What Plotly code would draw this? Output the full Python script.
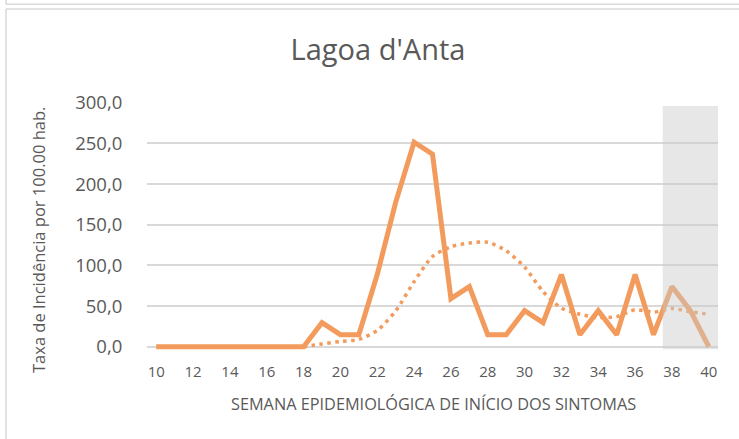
import plotly.graph_objects as go

# ---- data ----
weeks = list(range(10, 41))
incidence = [0, 0, 0, 0, 0, 0, 0, 0, 0,
             29.6, 14.8, 14.8, 88.8, 177.6, 251.6, 236.8, 59.2, 74.0,
             14.8, 14.8, 44.4, 29.6, 88.8, 14.8, 44.4, 14.8, 88.8, 14.8,
             74.0, 44.4, 0]
trend_weeks = list(range(18, 41))
trend_values = [0, 3.5, 6.5, 9, 20, 44, 80, 111, 123, 127.5, 128.5, 118, 98,
                68, 47.5, 40, 36, 37, 45.5, 42.6, 47, 43, 40]
y_tickvals = [0, 50, 100, 150, 200, 250, 300]
y_ticktext = ["0,0", "50,0", "100,0", "150,0", "200,0", "250,0", "300,0"]
x_tickvals = list(range(10, 41, 2))
shade_weeks = [37.5, 40.5]
title_text = "Lagoa d'Anta"
x_title = "SEMANA EPIDEMIOLÓGICA DE INÍCIO DOS SINTOMAS"
y_title = "Taxa de Incidência por 100.00 hab."

# ---- layout geometry (pixels) ----
W, H = 739, 439
L, R, T, B = 147, 21, 102, 89
pw, ph = W - L - R, H - T - B

def px_x(p):
    return (p - L) / pw

def px_y(p):
    return (H - B - p) / ph

ORANGE = "#F29B5C"
GRID = "#D9D9D9"
TXT = "#595959"
FONT = "Open Sans"

fig = go.Figure()
fig.add_trace(go.Scatter(
    x=trend_weeks, y=trend_values, mode="lines",
    line=dict(color=ORANGE, width=3.5, dash="3.5px,4.5px", shape="spline", smoothing=0.7),
    hoverinfo="skip", showlegend=False))
fig.add_trace(go.Scatter(
    x=weeks, y=incidence, mode="lines",
    line=dict(color=ORANGE, width=5),
    showlegend=False))

fig.add_shape(type="rect", xref="x", yref="y",
              x0=shade_weeks[0], x1=shade_weeks[1], y0=-3, y1=296,
              fillcolor="rgba(200,200,200,0.44)", line=dict(width=0), layer="above")

# chart-area borders
bc = dict(color="#D9D9D9", width=1.5)
fig.add_shape(type="line", xref="paper", yref="paper",
              x0=px_x(6), x1=px_x(W + 5), y0=px_y(9), y1=px_y(9), line=bc)
fig.add_shape(type="line", xref="paper", yref="paper",
              x0=px_x(6), x1=px_x(6), y0=px_y(9), y1=px_y(H + 5), line=bc)
fig.add_shape(type="line", xref="paper", yref="paper",
              x0=px_x(6), x1=px_x(W + 5), y0=px_y(4.3), y1=px_y(4.3), line=bc)
fig.add_shape(type="line", xref="paper", yref="paper",
              x0=px_x(6), x1=px_x(6), y0=px_y(4.3), y1=px_y(-5), line=bc)

fig.update_layout(
    width=W, height=H,
    margin=dict(l=L, r=R, t=T, b=B, pad=0),
    paper_bgcolor="white", plot_bgcolor="white",
    font=dict(family=FONT, color=TXT),
    title=dict(text=title_text, x=378 / W, xanchor="center", xref="container",
               y=1 - 50 / H, yanchor="middle", yref="container",
               font=dict(size=29, color=TXT, family=FONT)),
    xaxis=dict(range=[9.5, 40.5], tickvals=x_tickvals, showgrid=False,
               zeroline=False, showline=False, ticks="outside", ticklen=8,
               tickcolor="rgba(0,0,0,0)", tickfont=dict(size=15, color=TXT)),
    yaxis=dict(range=[-4, 301], tickvals=y_tickvals, ticktext=y_ticktext,
               showgrid=True, gridcolor=GRID, gridwidth=1.5, zeroline=False,
               showline=False, ticks="outside", ticklen=20,
               tickcolor="rgba(0,0,0,0)", tickfont=dict(size=18.5, color=TXT)),
    annotations=[
        dict(text=x_title, xref="paper", yref="paper", x=px_x(433), y=px_y(404),
             xanchor="center", yanchor="middle", showarrow=False,
             font=dict(size=16.3, color=TXT, family=FONT)),
        dict(text=y_title, xref="paper", yref="paper", x=px_x(38), y=px_y(240),
             xanchor="center", yanchor="middle", showarrow=False, textangle=-90,
             font=dict(size=16.5, color=TXT, family=FONT)),
    ],
)

fig.write_html("out.html", config={"displayModeBar": False},
               post_script="document.body.style.margin='0px';")
